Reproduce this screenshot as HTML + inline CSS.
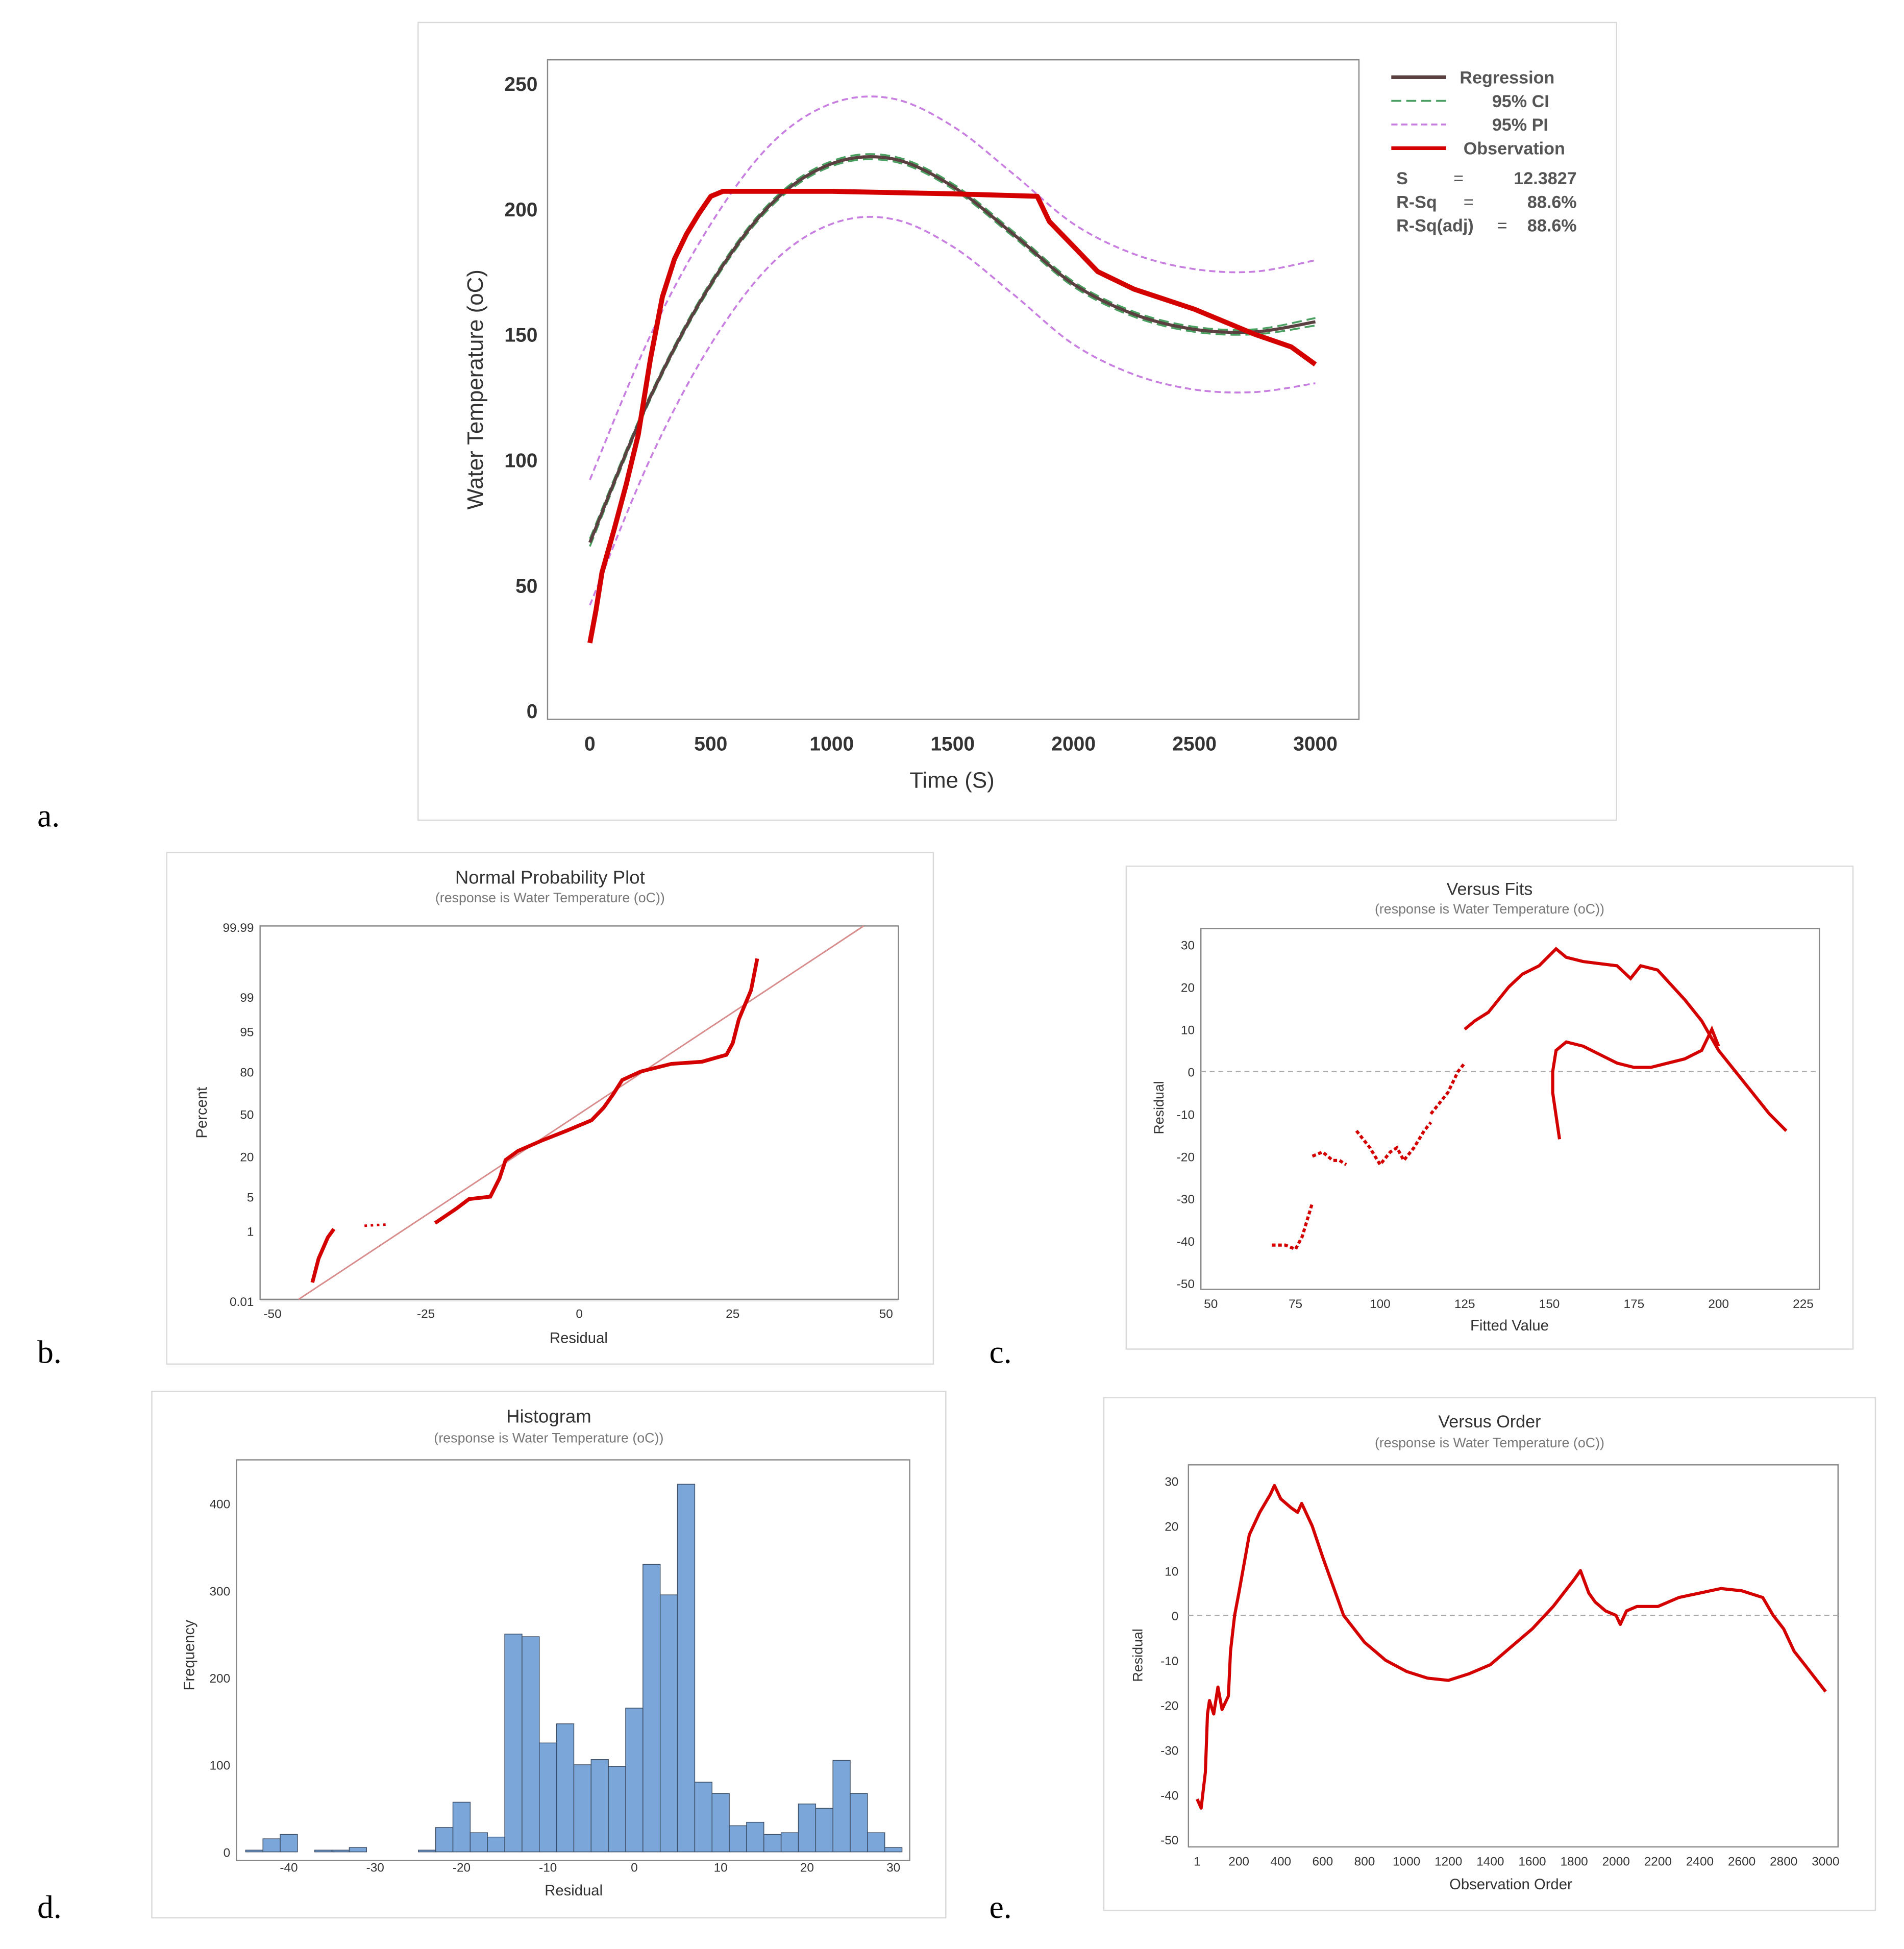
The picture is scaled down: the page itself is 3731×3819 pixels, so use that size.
<!DOCTYPE html>
<html><head><meta charset="utf-8"><style>
html,body{margin:0;padding:0;background:#fff;}
svg{display:block;font-family:"Liberation Sans",sans-serif;}
</style></head><body>
<svg id="s" width="3731" height="3819" viewBox="0 0 1530 1566" xmlns="http://www.w3.org/2000/svg">
<rect x="0" y="0" width="1530" height="1566" fill="#fff"/>
</svg>
<script>
// ---------- data ----------
// Panel a
const aXTicks=[0,500,1000,1500,2000,2500,3000];
const aYTicks=[0,50,100,150,200,250];
const regT=[0,250,500,750,1000,1250,1500,1750,2000,2250,2500,2750,3000];
const regV=[67,125,170,202,218,220,209,190,170,158,152,151,155];
const piHalf=[25,24.5,24,24,24,24,24,24,24,24,24,24,24.5];
const ciHalf=[1.5,1,1,1,1,1,1,1,1,1,1,1,1.5];
const obsT=[0,25,50,100,150,200,250,300,350,400,450,500,550,700,1000,1500,1850,1900,2000,2100,2250,2500,2750,2900,3000];
const obsV=[27,40,55,72,90,110,140,165,180,190,198,205,207,207,207,206,205,195,185,175,168,160,150,145,138];
// Panel b
const bXTicks=[-50,-25,0,25,50];
const bYTicks=[0.01,1,5,20,50,80,95,99,99.99];
const bRes=[[-43.5,-42.5,-41,-40],[-35,-33,-31],[-23.5,-20,-18,-14.5,-13,-12,-10,-6,-2,2,4,5.5,7,10,15,20,24,25,26,28,29]];
const bPct=[[0.04,0.2,0.7,1.1],[1.3,1.35,1.4],[1.5,3,4.5,5,10,18,23,30,37,45,55,65,75,80,84,85,88,92,97,99.3,99.9]];
// Panel c
const cXTicks=[50,75,100,125,150,175,200,225];
const cYTicks=[30,20,10,0,-10,-20,-30,-40,-50];
const cFit=[[68,72,75,77,80],[80,83,86,88,90],[93,97,100,103,105,107,110,113,115],[115,120,123,125],[125,128,132,135,138,142,147,152,155,160,170,174,177,182,190,195,200,205,210,215,220],[153,151,151,152,155,160,165,170,175,180,185,190,195,198,200]];
const cRes=[[-41,-41,-42,-39,-31],[-20,-19,-21,-21,-22],[-14,-18,-22,-19,-18,-21,-18,-14,-12],[-10,-5,0,2],[10,12,14,17,20,23,25,29,27,26,25,22,25,24,17,12,5,0,-5,-10,-14],[-16,-5,0,5,7,6,4,2,1,1,2,3,5,10,6]];
// Panel d
const dXTicks=[-40,-30,-20,-10,0,10,20,30];
const dYTicks=[0,100,200,300,400];
const dBins=[-44,-42,-40,-38,-36,-34,-32,-30,-28,-26,-24,-22,-20,-18,-16,-14,-12,-10,-8,-6,-4,-2,0,2,4,6,8,10,12,14,16,18,20,22,24,26,28,30];
const dFreq=[2,15,20,0,2,2,5,0,0,0,2,28,57,22,17,250,247,125,147,100,106,98,165,330,295,422,80,67,30,34,20,22,55,50,105,67,22,5];
// Panel e
const eXTicks=[1,200,400,600,800,1000,1200,1400,1600,1800,2000,2200,2400,2600,2800,3000];
const eYTicks=[30,20,10,0,-10,-20,-30,-40,-50];
const eOrd=[1,20,40,50,60,80,100,120,150,160,180,200,250,300,350,370,400,450,480,500,550,600,700,800,900,1000,1100,1200,1300,1400,1500,1600,1700,1800,1830,1870,1900,1950,2000,2020,2050,2100,2200,2300,2400,2500,2600,2700,2750,2800,2850,2900,2950,3000];
const eRes=[-41,-43,-35,-22,-19,-22,-16,-21,-18,-8,0,5,18,23,27,29,26,24,23,25,20,13,0,-6,-10,-12.5,-14,-14.5,-13,-11,-7,-3,2,8,10,5,3,1,0,-2,1,2,2,4,5,6,5.5,4,0,-3,-8,-11,-14,-17];

// ---------- helpers ----------
const svg=document.getElementById('s');
const NS='http://www.w3.org/2000/svg';
function mk(tag,attrs,name,parent,txt){
  const el=document.createElementNS(NS,tag);
  for(const k in attrs) el.setAttribute(k,attrs[k]);
  
  
  if(txt!==undefined) el.textContent=txt;
  (parent||svg).appendChild(el);
  return el;
}
function lin(d0,d1,p0,p1){return v=>p0+(v-d0)*(p1-p0)/(d1-d0);}
function poly(xs,ys,fx,fy){return xs.map((x,i)=>fx(x).toFixed(1)+','+fy(ys[i]).toFixed(1)).join(' ');}
function smooth(xs,ys,fx,fy){
  const p=xs.map((x,i)=>[fx(x),fy(ys[i])]);
  let d='M'+p[0][0].toFixed(1)+','+p[0][1].toFixed(1);
  for(let i=0;i<p.length-1;i++){
    const p0=p[Math.max(0,i-1)],p1=p[i],p2=p[i+1],p3=p[Math.min(p.length-1,i+2)];
    const c1=[p1[0]+(p2[0]-p0[0])/6,p1[1]+(p2[1]-p0[1])/6];
    const c2=[p2[0]-(p3[0]-p1[0])/6,p2[1]-(p3[1]-p1[1])/6];
    d+=' C'+c1[0].toFixed(1)+','+c1[1].toFixed(1)+' '+c2[0].toFixed(1)+','+c2[1].toFixed(1)+' '+p2[0].toFixed(1)+','+p2[1].toFixed(1);
  }
  return d;
}
function frame(x,y,w,h,name){mk('rect',{x,y,width:w,height:h,fill:'#fff',stroke:'#d9d9d9','stroke-width':1},name);}
function plotArea(x0,y0,x1,y1,name){mk('rect',{x:x0,y:y0,width:x1-x0,height:y1-y0,fill:'#fff',stroke:'#888','stroke-width':1},name);}
function grid(x1,y1,x2,y2,name){mk('line',{x1,y1,x2,y2,stroke:'#e6e6e6','stroke-width':1},name);}

// ---------- Panel a ----------
frame(336,18,963,641,'panel-a-frame');
const aX=lin(0,3000,474,1057), aY=lin(0,250,571,67);
aXTicks.forEach(t=>{grid(aX(t),48,aX(t),578,'a-x-gridline');mk('text',{x:aX(t),y:603,'font-size':16,'font-weight':'bold','text-anchor':'middle',fill:'#333'},'a-x-tick-label',null,t);});
aYTicks.forEach(t=>{grid(440,aY(t),1092,aY(t),'a-y-gridline');mk('text',{x:432,y:aY(t)+6,'font-size':16,'font-weight':'bold','text-anchor':'end',fill:'#333'},'a-y-tick-label',null,t);});
plotArea(440,48,1092,578,'a-plot-area');
mk('text',{x:765,y:633,'font-size':18,'text-anchor':'middle',fill:'#333'},'a-x-axis-title',null,'Time (S)');
mk('text',{x:388,y:313,'font-size':18,'text-anchor':'middle',fill:'#333',transform:'rotate(-90 388 313)'},'a-y-axis-title',null,'Water Temperature (oC)');
mk('path',{d:smooth(regT,regV.map((v,i)=>v+piHalf[i]),aX,aY),fill:'none',stroke:'#c77ee0','stroke-width':1.5,'stroke-dasharray':'5,3'},'pi-upper-line');
mk('path',{d:smooth(regT,regV.map((v,i)=>v-piHalf[i]),aX,aY),fill:'none',stroke:'#c77ee0','stroke-width':1.5,'stroke-dasharray':'5,3'},'pi-lower-line');
mk('path',{d:smooth(regT,regV.map((v,i)=>v+ciHalf[i]),aX,aY),fill:'none',stroke:'#4aa060','stroke-width':1.5,'stroke-dasharray':'8,4'},'ci-upper-line');
mk('path',{d:smooth(regT,regV.map((v,i)=>v-ciHalf[i]),aX,aY),fill:'none',stroke:'#4aa060','stroke-width':1.5,'stroke-dasharray':'8,4'},'ci-lower-line');
mk('path',{d:smooth(regT,regV,aX,aY),fill:'none',stroke:'#5a4040','stroke-width':2.5},'regression-line');
mk('polyline',{points:poly(obsT,obsV,aX,aY),fill:'none',stroke:'#d40000','stroke-width':4,'stroke-linejoin':'round'},'observation-line');
// legend
const lg=[['Regression','#5a4040','',3],['95% CI','#4aa060','8,4',1.5],['95% PI','#c77ee0','5,3',1.5],['Observation','#d40000','',3]];
lg.forEach((l,i)=>{const y=66+i*19;mk('line',{x1:1118,y1:y-4,x2:1162,y2:y-4,stroke:l[1],'stroke-width':l[3],'stroke-dasharray':l[2]},'legend-swatch');mk('text',{x:i==3?1176:(i==0?1173:1199),y:y+1,'font-size':14,fill:'#555','font-weight':'bold'},'legend-entry',null,l[0]);});
[['S','=','12.3827'],['R-Sq','=','88.6%'],['R-Sq(adj)','=','88.6%']].forEach((r,i)=>{const y=148+i*19;mk('text',{x:1122,y,'font-size':14,fill:'#555','font-weight':'bold'},'stat-label',null,r[0]);mk('text',{x:i==2?1203:(i==0?1168:1176),y,'font-size':14,fill:'#555'},'stat-equals',null,r[1]);mk('text',{x:1267,y,'font-size':14,fill:'#555','text-anchor':'end','font-weight':'bold'},'stat-value',null,r[2]);});
mk('text',{x:30,y:664,'font-size':26,fill:'#000','font-family':'Liberation Serif'},'panel-a-label',null,'a.');

// ---------- Panel b ----------
frame(134,685,616,411,'panel-b-frame');
mk('text',{x:442,y:710,'font-size':15,'text-anchor':'middle',fill:'#333'},'b-title',null,'Normal Probability Plot');
mk('text',{x:442,y:725,'font-size':11,'text-anchor':'middle',fill:'#777'},'b-subtitle',null,'(response is Water Temperature (oC))');
const bX=lin(-50,50,219,712);
function zq(p){
  p=p/100; const a=[-39.6968302866538,220.946098424521,-275.928510446969,138.357751867269,-30.6647980661472,2.50662827745924],b=[-54.4760987982241,161.585836858041,-155.698979859887,66.8013118877197,-13.2806815528857],c=[-0.00778489400243029,-0.322396458041136,-2.40075827716184,-2.54973253934373,4.37466414146497,2.93816398269878],d=[0.00778469570904146,0.32246712907004,2.445134137143,3.75440866190742];
  let q,r; if(p<0.02425){q=Math.sqrt(-2*Math.log(p));return (((((c[0]*q+c[1])*q+c[2])*q+c[3])*q+c[4])*q+c[5])/((((d[0]*q+d[1])*q+d[2])*q+d[3])*q+1);}
  if(p>1-0.02425){q=Math.sqrt(-2*Math.log(1-p));return -(((((c[0]*q+c[1])*q+c[2])*q+c[3])*q+c[4])*q+c[5])/((((d[0]*q+d[1])*q+d[2])*q+d[3])*q+1);}
  q=p-0.5;r=q*q;return (((((a[0]*r+a[1])*r+a[2])*r+a[3])*r+a[4])*r+a[5])*q/(((((b[0]*r+b[1])*r+b[2])*r+b[3])*r+b[4])*r+1);}
const bY=p=>895-40.4*zq(p);
bXTicks.forEach(t=>{grid(bX(t),744,bX(t),1044,'b-x-gridline');mk('text',{x:bX(t),y:1059,'font-size':10,'text-anchor':'middle',fill:'#333'},'b-x-tick-label',null,t);});
bYTicks.forEach(t=>{grid(209,bY(t),722,bY(t),'b-y-gridline');mk('text',{x:204,y:bY(t)+4,'font-size':10,'text-anchor':'end',fill:'#333'},'b-y-tick-label',null,t);});
plotArea(209,744,722,1044,'b-plot-area');
mk('text',{x:465,y:1079,'font-size':12,'text-anchor':'middle',fill:'#333'},'b-x-axis-title',null,'Residual');
mk('text',{x:166,y:894,'font-size':12,'text-anchor':'middle',fill:'#333',transform:'rotate(-90 166 894)'},'b-y-axis-title',null,'Percent');
mk('line',{x1:240,y1:1044,x2:694,y2:744,stroke:'#d98c8c','stroke-width':1.2},'b-reference-line');
bRes.forEach((xs,i)=>mk('polyline',{points:poly(xs,bPct[i],bX,bY),fill:'none',stroke:'#d40000','stroke-width':i==1?2:3,'stroke-dasharray':i==1?'2,3':''},'b-residual-points'));
mk('text',{x:30,y:1095,'font-size':26,fill:'#000','font-family':'Liberation Serif'},'panel-b-label',null,'b.');

// ---------- Panel c ----------
frame(905,696,584,388,'panel-c-frame');
mk('text',{x:1197,y:719,'font-size':14,'text-anchor':'middle',fill:'#333'},'c-title',null,'Versus Fits');
mk('text',{x:1197,y:734,'font-size':11,'text-anchor':'middle',fill:'#777'},'c-subtitle',null,'(response is Water Temperature (oC))');
const cX=lin(50,225,973,1449), cY=lin(30,-50,759,1031);
cXTicks.forEach(t=>{grid(cX(t),746,cX(t),1036,'c-x-gridline');mk('text',{x:cX(t),y:1051,'font-size':10,'text-anchor':'middle',fill:'#333'},'c-x-tick-label',null,t);});
cYTicks.forEach(t=>{grid(965,cY(t),1462,cY(t),'c-y-gridline');mk('text',{x:960,y:cY(t)+4,'font-size':10,'text-anchor':'end',fill:'#333'},'c-y-tick-label',null,t);});
plotArea(965,746,1462,1036,'c-plot-area');
mk('line',{x1:965,y1:cY(0),x2:1462,y2:cY(0),stroke:'#aaa','stroke-dasharray':'4,3'},'c-zero-line');
mk('text',{x:1213,y:1069,'font-size':12,'text-anchor':'middle',fill:'#333'},'c-x-axis-title',null,'Fitted Value');
mk('text',{x:935,y:890,'font-size':11,'text-anchor':'middle',fill:'#333',transform:'rotate(-90 935 890)'},'c-y-axis-title',null,'Residual');
cFit.forEach((xs,i)=>mk('polyline',{points:poly(xs,cRes[i],cX,cY),fill:'none',stroke:'#d40000','stroke-width':2.5,'stroke-dasharray':(i<4)?'3,2':''},'c-residual-points'));
mk('text',{x:795,y:1095,'font-size':26,fill:'#000','font-family':'Liberation Serif'},'panel-c-label',null,'c.');

// ---------- Panel d ----------
frame(122,1118,638,423,'panel-d-frame');
mk('text',{x:441,y:1143,'font-size':15,'text-anchor':'middle',fill:'#333'},'d-title',null,'Histogram');
mk('text',{x:441,y:1159,'font-size':11,'text-anchor':'middle',fill:'#777'},'d-subtitle',null,'(response is Water Temperature (oC))');
const dX=lin(0,10,509.7,579.1), dY=lin(0,400,1488,1208);
dXTicks.forEach(t=>{grid(dX(t),1173,dX(t),1488,'d-x-gridline');mk('text',{x:dX(t),y:1504,'font-size':10,'text-anchor':'middle',fill:'#333'},'d-x-tick-label',null,t);});
dYTicks.forEach(t=>{grid(190,dY(t),731,dY(t),'d-y-gridline');mk('text',{x:185,y:dY(t)+4,'font-size':10,'text-anchor':'end',fill:'#333'},'d-y-tick-label',null,t);});
plotArea(190,1173,731,1495,'d-plot-area');
dBins.forEach((c,i)=>{if(dFreq[i]<=0)return;mk('rect',{x:dX(c-1),y:dY(dFreq[i]),width:dX(c+1)-dX(c-1),height:dY(0)-dY(dFreq[i]),fill:'#7aa6da',stroke:'#3d4f66','stroke-width':0.6},'histogram-bar');});
mk('text',{x:461,y:1523,'font-size':12,'text-anchor':'middle',fill:'#333'},'d-x-axis-title',null,'Residual');
mk('text',{x:156,y:1330,'font-size':12,'text-anchor':'middle',fill:'#333',transform:'rotate(-90 156 1330)'},'d-y-axis-title',null,'Frequency');
mk('text',{x:30,y:1541,'font-size':26,fill:'#000','font-family':'Liberation Serif'},'panel-d-label',null,'d.');

// ---------- Panel e ----------
frame(887,1123,620,412,'panel-e-frame');
mk('text',{x:1197,y:1147,'font-size':14,'text-anchor':'middle',fill:'#333'},'e-title',null,'Versus Order');
mk('text',{x:1197,y:1163,'font-size':11,'text-anchor':'middle',fill:'#777'},'e-subtitle',null,'(response is Water Temperature (oC))');
const eX=lin(1,3000,962,1467), eY=lin(30,-50,1190,1478);
eXTicks.forEach(t=>{grid(eX(t),1177,eX(t),1484,'e-x-gridline');mk('text',{x:eX(t),y:1499,'font-size':10,'text-anchor':'middle',fill:'#333'},'e-x-tick-label',null,t);});
eYTicks.forEach(t=>{grid(955,eY(t),1477,eY(t),'e-y-gridline');mk('text',{x:947,y:eY(t)+4,'font-size':10,'text-anchor':'end',fill:'#333'},'e-y-tick-label',null,t);});
plotArea(955,1177,1477,1484,'e-plot-area');
mk('line',{x1:955,y1:eY(0),x2:1477,y2:eY(0),stroke:'#aaa','stroke-dasharray':'4,3'},'e-zero-line');
mk('polyline',{points:poly(eOrd,eRes,eX,eY),fill:'none',stroke:'#d40000','stroke-width':2.5,'stroke-linejoin':'round'},'e-residual-line');
mk('text',{x:1214,y:1518,'font-size':12,'text-anchor':'middle',fill:'#333'},'e-x-axis-title',null,'Observation Order');
mk('text',{x:918,y:1330,'font-size':11,'text-anchor':'middle',fill:'#333',transform:'rotate(-90 918 1330)'},'e-y-axis-title',null,'Residual');
mk('text',{x:795,y:1541,'font-size':26,fill:'#000','font-family':'Liberation Serif'},'panel-e-label',null,'e.');
</script>
</body></html>
